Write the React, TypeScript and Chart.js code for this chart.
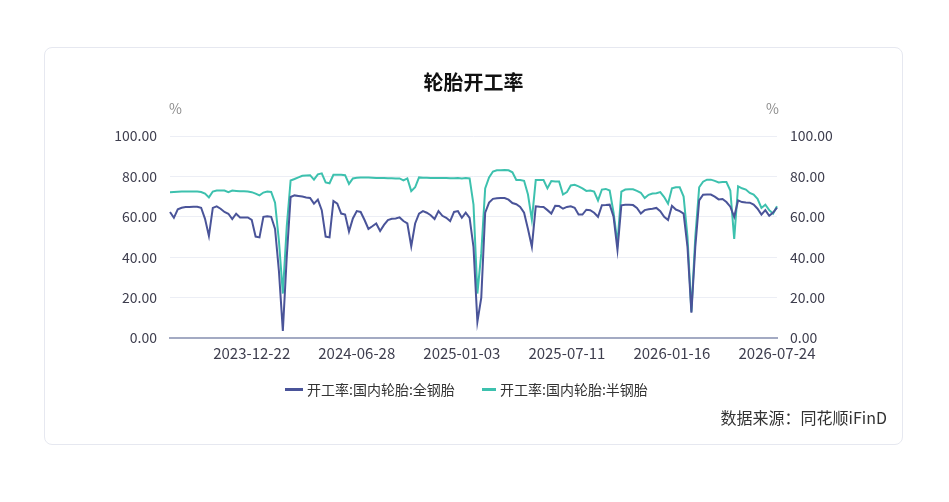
import React, { useEffect, useRef } from "react";
import { Chart, registerables } from "chart.js";

Chart.register(...registerables);

const title = "轮胎开工率";
const seriesNames = ["开工率:国内轮胎:全钢胎", "开工率:国内轮胎:半钢胎"];
const seriesColors = ["#4a5499", "#3dc1ae"];
const sourceText = "数据来源：同花顺iFinD";
const unitLabel = "%";

const startDate = "2023-07-28";
const weekCount = 157;
const labelEvery = 27;

const yTicks = [0, 20, 40, 60, 80, 100];

const fullSteel = [
  62.4, 59.5, 63.7, 64.5, 64.8, 64.8, 65, 65, 64.5, 59,
  50.5, 64.4, 65.2, 64, 62.4, 61.5, 58.9, 61.5, 59.7, 59.7,
  59.7, 58.5, 50.2, 49.8, 60, 60.3, 60, 54, 33, 3.5,
  40, 69.8, 70.6, 70.3, 70, 69.6, 69.3, 66.5, 68.5, 63.3,
  50.2, 49.8, 67.8, 66.5, 61.6, 61.1, 52.7, 59.2, 62.8, 62.4,
  58.4, 54, 55.3, 56.7, 53, 56, 58.4, 59, 59.2, 59.7,
  57.9, 56.7, 45.4, 56.7, 61.6, 62.8, 62, 60.8, 58.9, 62.8,
  60.5, 59.5, 57.9, 62.4, 62.8, 59.5, 62.1, 59.5, 45, 8,
  20, 62, 67, 68.9, 69.2, 69.3, 69.3, 68.5, 66.8, 66.2,
  64.9, 62, 54, 45.2, 65.2, 65, 64.9, 63.3, 61.6, 65.4,
  65.3, 64, 64.9, 65.2, 64.5, 61.1, 61.1, 63.5, 63.3, 62,
  60, 65.7, 65.8, 66, 60, 43.6, 65.7, 66, 66, 65.8,
  64.4, 61.6, 63.3, 63.7, 64, 64.4, 62.8, 60, 58.4, 65.4,
  63.6, 62.8, 61.6, 45, 12.5, 45, 68.1, 70.9, 71, 71,
  70, 68.6, 68.8, 67.3, 65, 60, 68.1, 67.3, 67.1, 67,
  66, 64, 61.1, 63.3, 60.5, 62.1, 64.5,
];

const semiSteel = [
  72.2, 72.3, 72.4, 72.5, 72.5, 72.5, 72.5, 72.5, 72.3, 71.5,
  69.6, 72.5, 73, 73, 73, 72.2, 73, 72.8, 72.6, 72.6,
  72.5, 72.2, 71.5, 70.6, 72, 72.5, 72.3, 67, 48, 22,
  55, 78, 78.7, 79.5, 80.3, 80.5, 80.6, 78.4, 81, 81.5,
  77, 76.6, 80.8, 80.8, 80.8, 80.6, 76.3, 79, 79.3, 79.5,
  79.5, 79.4, 79.3, 79.2, 79.2, 79.2, 79.1, 79.1, 79, 79,
  78, 79, 72.7, 74.6, 79.5, 79.3, 79.3, 79.2, 79.2, 79.2,
  79.2, 79.2, 79.1, 79.1, 79.2, 79, 79.2, 79, 66, 22,
  42, 74, 79.5, 82.4, 83, 83, 83.2, 83, 82, 78.2,
  78.2, 77.8, 71, 58.5, 78.2, 78.2, 78.2, 74.1, 77.7, 77.5,
  77.5, 71, 72.2, 75.5, 75.8, 75.1, 74.1, 72.8, 73, 72.5,
  68.1, 73.5, 73.8, 73, 62, 46.9, 72.5, 73.5, 73.6, 73.6,
  72.8, 71.9, 69.3, 70.9, 71.5, 71.7, 72.2, 69.8, 66.5, 74.1,
  74.6, 74.6, 70, 50, 13, 50, 74.6, 77.4, 78.4, 78.4,
  77.8, 77, 77.2, 77.2, 73, 49.1, 75.1, 74.1, 73.5, 71.8,
  71, 68.9, 64.4, 66, 63.3, 61.6, 65.2,
];

function buildDates(start: string, n: number): string[] {
  const out: string[] = [];
  const d0 = new Date(start + "T00:00:00Z");
  for (let i = 0; i < n; i++) {
    const d = new Date(d0.getTime() + i * 7 * 86400000);
    out.push(d.toISOString().slice(0, 10));
  }
  return out;
}

const categories = buildDates(startDate, weekCount);

const FONT = '"Noto Sans CJK SC", "Noto Sans", sans-serif';

export default function App() {
  const ref = useRef<HTMLCanvasElement | null>(null);

  useEffect(() => {
    if (!ref.current) return;
    const last = categories.length - 1;
    const chart = new Chart(ref.current, {
      type: "line",
      data: {
        labels: categories,
        datasets: [
          {
            label: seriesNames[0],
            data: fullSteel,
            borderColor: seriesColors[0],
            backgroundColor: seriesColors[0],
            borderWidth: 2,
            pointRadius: 0,
            tension: 0,
            yAxisID: "y",
          },
          {
            label: seriesNames[1],
            data: semiSteel,
            borderColor: seriesColors[1],
            backgroundColor: seriesColors[1],
            borderWidth: 2,
            pointRadius: 0,
            tension: 0,
            yAxisID: "y1",
          },
        ],
      },
      options: {
        responsive: false,
        animation: false,
        layout: { padding: { top: 89, left: 0, right: 0, bottom: 0 } },
        plugins: {
          legend: { display: false },
          title: { display: false },
          tooltip: { enabled: false },
        },
        scales: {
          x: {
            type: "category",
            grid: { display: false, drawTicks: false },
            border: { display: true, color: "#a3aac3", width: 2 },
            ticks: {
              autoSkip: false,
              maxRotation: 0,
              padding: 6,
              color: "#3e3e4e",
              font: { family: FONT, size: 15 },
              callback: (_v: any, idx: number) =>
                (last - idx) % labelEvery === 0 ? categories[idx] : null,
            },
            afterFit: (s: any) => {
              s.height = 107;
            },
          },
          y: {
            position: "left",
            min: yTicks[0],
            max: yTicks[yTicks.length - 1],
            grid: { color: "#eceef5", lineWidth: 1, drawTicks: false },
            border: { display: false },
            ticks: {
              stepSize: 20,
              padding: 13,
              color: "#3e3e4e",
              font: { family: FONT, size: 14 },
              callback: (v: any) => Number(v).toFixed(2),
            },
            afterFit: (s: any) => {
              s.width = 126;
            },
          },
          y1: {
            position: "right",
            min: yTicks[0],
            max: yTicks[yTicks.length - 1],
            grid: { drawOnChartArea: false, drawTicks: false },
            border: { display: false },
            ticks: {
              stepSize: 20,
              padding: 13,
              color: "#3e3e4e",
              font: { family: FONT, size: 14 },
              callback: (v: any) => Number(v).toFixed(2),
            },
            afterFit: (s: any) => {
              s.width = 126;
            },
          },
        },
      },
    });
    return () => chart.destroy();
  }, []);

  const abs: React.CSSProperties = { position: "absolute", whiteSpace: "nowrap" };
  const legendLine = [
    { left: 285, width: 18 },
    { left: 482, width: 14 },
  ];
  const legendText = [307, 500];

  return (
    <div
      style={{
        position: "absolute",
        left: 0,
        top: 0,
        width: 949,
        height: 502,
        background: "#ffffff",
        fontFamily: FONT,
      }}
    >
      <div
        style={{
          ...abs,
          left: 44,
          top: 47,
          width: 859,
          height: 398,
          boxSizing: "border-box",
          border: "1px solid #e6e8f0",
          borderRadius: 8,
        }}
      />
      <canvas
        ref={ref}
        width={859}
        height={398}
        style={{ position: "absolute", left: 44, top: 47, width: 859, height: 398 }}
      />
      <div
        style={{
          ...abs,
          left: 44,
          width: 859,
          top: 68,
          lineHeight: "28px",
          textAlign: "center",
          fontSize: 20,
          fontWeight: 700,
          color: "#111",
        }}
      >
        {title}
      </div>
      <div style={{ ...abs, left: 169, top: 99, lineHeight: "18px", fontSize: 14, color: "#8c8c8c" }}>
        {unitLabel}
      </div>
      <div style={{ ...abs, left: 766, top: 99, lineHeight: "18px", fontSize: 14, color: "#8c8c8c" }}>
        {unitLabel}
      </div>
      {seriesNames.map((name, i) => (
        <div key={name}>
          <div
            style={{
              ...abs,
              left: legendLine[i].left,
              top: 388,
              width: legendLine[i].width,
              height: 2.5,
              background: seriesColors[i],
            }}
          />
          <div
            style={{
              ...abs,
              left: legendText[i],
              top: 380,
              lineHeight: "18px",
              fontSize: 14,
              color: "#333",
            }}
          >
            {name}
          </div>
        </div>
      ))}
      <div
        style={{
          ...abs,
          right: 62,
          top: 406,
          lineHeight: "22px",
          fontSize: 16,
          color: "#333",
        }}
      >
        {sourceText}
      </div>
    </div>
  );
}
